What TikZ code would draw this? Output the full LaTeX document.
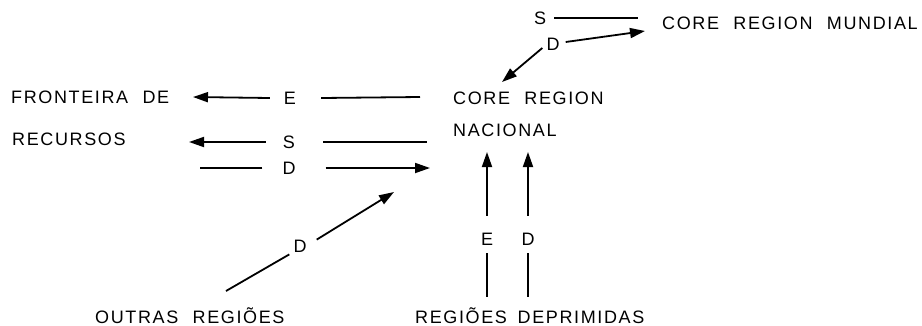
\documentclass[tikz,border=0pt]{standalone}
\usepackage{fontspec}
\setmainfont{Liberation Sans}[LetterSpace=9]
\usetikzlibrary{arrows.meta}
\newcommand{\wsp}{\hspace{0.8em}}
\begin{document}
\begin{tikzpicture}[x=1pt,y=-1pt,
  lbl/.style={inner sep=0pt, font=\fontsize{18}{21}\selectfont},
  txt/.style={lbl, anchor=base west},
  ln/.style={line width=1.8pt},
  arr/.style={ln, -{Triangle[length=15pt,width=10pt]}}]
\useasboundingbox (0,0) rectangle (922,325);
% texts
\node[txt] (mundial) at (662,29.5) {CORE\wsp REGION\wsp MUNDIAL};
\node[txt] (core) at (453,104.5) {CORE\wsp REGION};
\node[txt] (nacional) at (453,136.5) {NACIONAL};
\node[txt] (fronteira) at (11,103.5) {FRONTEIRA\wsp DE};
\node[txt] (recursos) at (12,145.5) {RECURSOS};
\node[txt] (outras) at (95,323) {OUTRAS\wsp REGIÕES};
\node[txt] (deprimidas) at (415,323) {REGIÕES\hspace{0.6em}DEPRIMIDAS};
% flow labels
\node[lbl] (tS) at (540,18) {S};
\node[lbl] (tD) at (553,44) {D};
\node[lbl] (rE) at (290,98) {E};
\node[lbl] (rS) at (289,142) {S};
\node[lbl] (rD) at (289,168) {D};
\node[lbl] (vE) at (487,239) {E};
\node[lbl] (vD) at (528,239) {D};
\node[lbl] (dD) at (300,246) {D};
% free ends
\coordinate (tSe) at (638,18);
\coordinate (tDe) at (645,31);
\coordinate (tDd) at (502,82);
\coordinate (rEl) at (193,97);
\coordinate (rEr) at (420,97);
\coordinate (rSl) at (189,142);
\coordinate (rSr) at (427,142);
\coordinate (rDl) at (200,168);
\coordinate (rDr) at (430,168);
\coordinate (vEt) at (487,152);
\coordinate (vEb) at (487,297);
\coordinate (vDt) at (528,152);
\coordinate (vDb) at (528,297);
\coordinate (dDl) at (226,291);
\coordinate (dDu) at (394,192);
% connectors
\draw[ln] (tS.east) ++(8,0) -- (tSe);
\draw[arr] (tD.east) ++(6,-2) -- (tDe);
\draw[arr] (tD.west) ++(-4,4) -- (tDd);
\draw[arr] (rE.west) ++(-14,0) -- (rEl);
\draw[ln] (rE.east) ++(25,0) -- (rEr);
\draw[arr] (rS.west) ++(-17,0) -- (rSl);
\draw[ln] (rS.east) ++(28,0) -- (rSr);
\draw[ln] (rD.west) ++(-20,0) -- (rDl);
\draw[arr] (rD.east) ++(30,0) -- (rDr);
\draw[arr] (vE.north) ++(0,-17) -- (vEt);
\draw[ln] (vE.south) ++(0,8) -- (vEb);
\draw[arr] (vD.north) ++(0,-17) -- (vDt);
\draw[ln] (vD.south) ++(0,8) -- (vDb);
\draw[ln] (dD.south west) ++(-4,2) -- (dDl);
\draw[arr] (dD.north east) ++(10,0) -- (dDu);
\end{tikzpicture}
\end{document}
